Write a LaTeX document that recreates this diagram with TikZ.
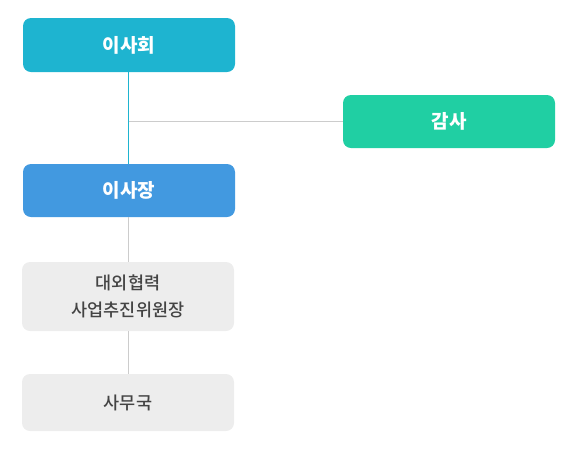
\documentclass[tikz,border=0pt]{standalone}
\usepackage{fontspec}
\usepackage{xcolor}
\usepackage{tikz}
\usetikzlibrary{positioning}
\newfontfamily\kr{Noto Sans CJK KR}
\newfontfamily\krmed{Noto Sans CJK KR Medium}
\definecolor{boardteal}{HTML}{1EB4D0}
\definecolor{auditgreen}{HTML}{20CFA3}
\definecolor{chairblue}{HTML}{4299E0}
\definecolor{unitgray}{HTML}{EDEDED}
\definecolor{textgray}{HTML}{444444}
\definecolor{linegray}{HTML}{CCCCCC}

\begin{document}
\begin{tikzpicture}[x=1pt, y=-1pt,
  orgbox/.style={rounded corners=8pt, minimum width=212pt, align=center, inner sep=0pt},
  headbox/.style={orgbox, minimum height=54pt, text=white, font=\kr\bfseries\fontsize{19}{22}\selectfont},
  unitbox/.style={orgbox, fill=unitgray, text=textgray, font=\krmed\fontsize{17.5}{27}\selectfont},
  link/.style={linegray, line width=1pt}]
  \useasboundingbox (0,0) rectangle (568,451);
  % top of the chart
  \node[headbox, fill=boardteal] (board) at (129,45) {이사회};
  \node[headbox, fill=auditgreen, minimum height=53pt] (audit) at (449,121.5) {감사};
  \node[headbox, fill=chairblue, minimum height=53pt] (chair) at (129,190.5) {이사장};
  % lower units
  \node[unitbox, minimum height=69pt] (coop) at (128,296.5) {대외협력\\사업추진위원장};
  \node[unitbox, minimum height=57pt] (office) at (128,402.5) {사무국};
  % connectors, all on one spine
  \coordinate (spine) at (128.5,0);
  \draw[boardteal, line width=1pt] (board.south -| spine) -- (chair.north -| spine);
  \coordinate (tap) at (spine |- audit.west);
  \draw[link] (tap) -- (audit.west);
  \draw[link] (chair.south -| spine) -- (coop.north -| spine);
  \draw[link] (coop.south -| spine) -- (office.north -| spine);
\end{tikzpicture}
\end{document}
